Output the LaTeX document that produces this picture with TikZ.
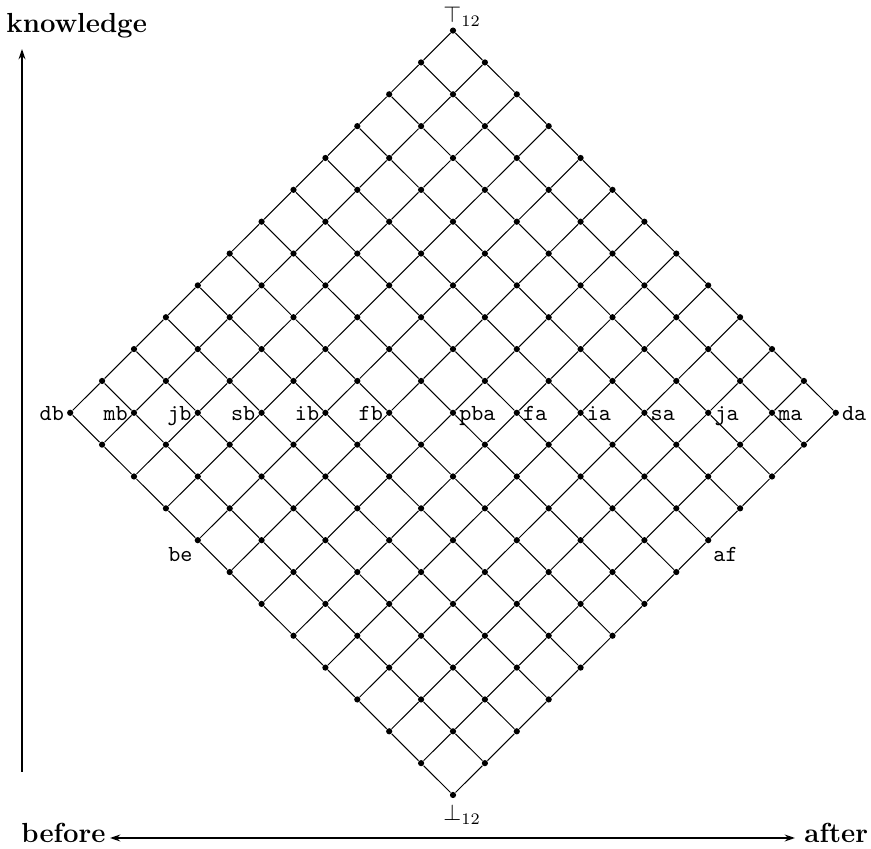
\documentclass[tikz,border=0pt]{standalone}
\usepackage{mathtools}
\usetikzlibrary{arrows.meta}
\tikzset{axtip/.tip={Stealth[length=4.5pt, width=3pt]}}
\begin{document}
\begin{tikzpicture}[x=0.435pt, y=-0.435pt,
  dot/.style={circle, fill=black, inner sep=0pt, minimum size=2.7pt},
  edge/.style={line width=0.45pt},
  lbl/.style={font=\ttfamily, inner sep=1pt, text height=0.7em, text depth=0pt},
  axis/.style={line width=0.95pt},
  axlbl/.style={font=\large\bfseries, inner sep=0pt}]
\path[use as bounding box] (0,0) rectangle (871,849);
% lattice points
\foreach \i in {0,...,12}
  \foreach \j in {0,...,12}
    \node[dot] (p-\i-\j) at ({453+(\j-\i)*31.9}, {795-(\i+\j)*31.85}) {};
% edges
\foreach \i in {0,...,12}
  \foreach \j in {0,...,11} {
    \pgfmathtruncatemacro\nj{\j+1}
    \draw[edge] (p-\i-\j) -- (p-\i-\nj);
    \draw[edge] (p-\j-\i) -- (p-\nj-\i);
  }
% middle row labels
\foreach \i/\j/\t in {12/0/db, 11/1/mb, 10/2/jb, 9/3/sb, 8/4/ib, 7/5/fb}
  \node[lbl, anchor=east] (l-\t) at (p-\i-\j.west) {\t};
\foreach \i/\j/\t in {6/6/pba, 5/7/fa, 4/8/ia, 3/9/sa, 2/10/ja, 1/11/ma, 0/12/da}
  \node[lbl, anchor=west] (l-\t) at (p-\i-\j.east) {\t};
\node[lbl, anchor=north east] (l-be) at (p-8-0.south west) {be};
\node[lbl, anchor=north west] (l-af) at (p-0-8.south east) {af};
% top and bottom
\node[inner sep=0pt, anchor=base] (l-top) at (453,23) {$\top_{\mathrlap{12}}$};
\node[inner sep=0pt, anchor=base] (l-bot) at (453,821) {$\bot_{\mathrlap{12}}$};
% axes
\coordinate (v0) at (22,772);
\coordinate (v1) at (22,49);
\draw[axis, -axtip] (v0) -- (v1);
\node[axlbl, anchor=base west] (k) at (6,33) {knowledge};
\node[axlbl, anchor=base west] (bef) at (21,843) {before};
\node[axlbl, anchor=base west] (aft) at (804,843) {after};
\coordinate (h0) at (110,838);
\coordinate (h1) at (795,838);
\draw[axis, axtip-axtip] (h0) -- (h1);
\end{tikzpicture}
\end{document}
